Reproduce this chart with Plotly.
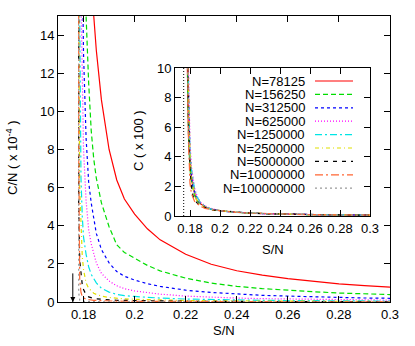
import plotly.graph_objects as go

# ---------------- data ----------------
s_over_n = [0.1777, 0.1779, 0.1781, 0.1785, 0.179, 0.1795, 0.180, 0.181, 0.182, 0.183,
            0.184, 0.185, 0.187, 0.190, 0.193, 0.196, 0.200, 0.205, 0.210, 0.220,
            0.230, 0.240, 0.250, 0.260, 0.270, 0.280, 0.290, 0.300]

sizes = [78125, 156250, 312500, 625000, 1250000, 2500000, 5000000, 10000000, 100000000]
labels = ["N=78125", "N=156250", "N=312500", "N=625000", "N=1250000",
          "N=2500000", "N=5000000", "N=10000000", "N=100000000"]

# C/N in units of 1e-4, one list per N
cn_78125 = [170, 150, 130, 95, 70, 55, 45, 33, 25, 19.5, 15.0, 13.2, 10.6, 8.0, 6.4, 5.4,
            4.61, 3.84, 3.26, 2.50, 1.98, 1.64, 1.41, 1.23, 1.08, 0.95, 0.86, 0.78]
cn_156250 = [200, 150, 100, 55, 35, 26, 20, 15, 11.5, 9.0, 7.5, 6.5, 5.2, 3.95, 3.0, 2.6,
             2.30, 1.92, 1.63, 1.25, 0.99, 0.82, 0.70, 0.61, 0.54, 0.47, 0.43, 0.39]
cn_312500 = [300, 200, 120, 50, 28, 18, 13, 8.6, 6.3, 5.2, 4.3, 3.6, 2.75, 2.05, 1.6, 1.35,
             1.15, 0.96, 0.82, 0.62, 0.50, 0.41, 0.35, 0.31, 0.27, 0.24, 0.21, 0.195]
cn_625000 = [400, 200, 80, 30, 16, 11, 8.0, 5.3, 3.8, 3.05, 2.5, 2.05, 1.5, 1.1, 0.85, 0.70,
             0.58, 0.48, 0.41, 0.31, 0.25, 0.205, 0.176, 0.154, 0.134, 0.118, 0.107, 0.098]
cn_1250000 = [600, 200, 60, 15, 6.5, 4.5, 3.4, 2.5, 1.85, 1.45, 1.2, 1.0, 0.72, 0.52, 0.40, 0.33,
              0.29, 0.24, 0.204, 0.156, 0.124, 0.102, 0.088, 0.077, 0.067, 0.059, 0.054, 0.049]
cn_2500000 = [800, 60, 15, 6, 3.5, 2.4, 1.7, 1.0, 0.72, 0.56, 0.46, 0.40, 0.31, 0.24, 0.19, 0.16,
              0.144, 0.12, 0.102, 0.078, 0.062, 0.051, 0.044, 0.038, 0.034, 0.030, 0.027, 0.024]
cn_5000000 = [1000, 20, 5, 2.2, 1.3, 0.9, 0.65, 0.38, 0.27, 0.22, 0.19, 0.17, 0.14, 0.11, 0.09, 0.08,
              0.072, 0.06, 0.051, 0.039, 0.031, 0.026, 0.022, 0.019, 0.017, 0.015, 0.013, 0.012]
cn_10000000 = [2000, 30, 8, 1.2, 0.5, 0.3, 0.22, 0.15, 0.12, 0.10, 0.09, 0.08, 0.065, 0.052, 0.045, 0.040,
               0.036, 0.030, 0.026, 0.020, 0.016, 0.013, 0.011, 0.0096, 0.0084, 0.0074, 0.0067, 0.0061]
cn_100000000 = [200, 2, 0.5, 0.1, 0.06, 0.05, 0.04, 0.03, 0.023, 0.018, 0.013, 0.011, 0.009, 0.0064, 0.005, 0.0043,
                0.0036, 0.003, 0.0026, 0.002, 0.0016, 0.0013, 0.0011, 0.001, 0.0008, 0.0007, 0.0007, 0.0006]

series = [cn_78125, cn_156250, cn_312500, cn_625000, cn_1250000,
          cn_2500000, cn_5000000, cn_10000000, cn_100000000]

main_xticks = [0.18, 0.20, 0.22, 0.24, 0.26, 0.28, 0.30]
main_xticktext = ["0.18", "0.2", "0.22", "0.24", "0.26", "0.28", "0.3"]
main_yticks = [0, 2, 4, 6, 8, 10, 12, 14]
inset_yticks = [0, 2, 4, 6, 8, 10]
critical_sn = 0.1758      # marked by the arrow / dotted line
arrow_top = 1.5

# ---------------- styles ----------------
colors = ["#ff0000", "#00dd00", "#0000ff", "#ff00ff", "#00e5e5",
          "#e0e000", "#000000", "#ff6633", "#999999"]
dashes = ["solid", "5px,3px", "3px,3px", "1px,2px", "7px,3px,2px,3px",
          "4px,3px,1px,3px", "4px,5px", "8px,3px,2px,3px", "2px,3px"]

W, H = 415, 346
L, R, T, B = 58, 25, 16, 44
pw, ph = W - L - R, H - T - B


def px(x):
    return (x - L) / pw


def py(y):
    return (H - B - y) / ph


FONT = dict(family="Liberation Sans, Arial, sans-serif", size=13, color="black")

fig = go.Figure()

for vals, n, col, d, lab in zip(series, sizes, colors, dashes, labels):
    fig.add_trace(go.Scatter(x=s_over_n, y=vals, mode="lines", name=lab,
                             line=dict(color=col, dash=d, width=1.2),
                             xaxis="x", yaxis="y", showlegend=False))
for vals, n, col, d, lab in zip(series, sizes, colors, dashes, labels):
    c100 = [v * n * 1e-6 for v in vals]   # C/100 = (C/N * 1e-4) * N / 100
    fig.add_trace(go.Scatter(x=s_over_n, y=c100, mode="lines", name=lab,
                             line=dict(color=col, dash=d, width=1.2),
                             xaxis="x2", yaxis="y2", showlegend=False))

axis_common = dict(showline=True, linecolor="black", linewidth=1, mirror="ticks",
                   ticks="inside", ticklen=6, tickcolor="black", tickwidth=1,
                   showgrid=False, zeroline=False, tickfont=FONT)

inset_x0, inset_x1 = 175, 370
inset_y0, inset_y1 = 68, 216

fig.update_layout(
    width=W, height=H, margin=dict(l=L, r=R, t=T, b=B, autoexpand=False),
    paper_bgcolor="white", plot_bgcolor="white", font=FONT,
    xaxis=dict(range=[0.17, 0.30], tickvals=main_xticks, ticktext=main_xticktext,
               domain=[0, 1], anchor="y", **axis_common),
    yaxis=dict(range=[0, 15], tickvals=main_yticks, domain=[0, 1], anchor="x", **axis_common),
    xaxis2=dict(range=[0.17, 0.30], tickvals=main_xticks, ticktext=main_xticktext,
                domain=[px(inset_x0), px(inset_x1)], anchor="y2", **axis_common),
    yaxis2=dict(range=[0, 10], tickvals=inset_yticks,
                domain=[py(inset_y1), py(inset_y0)], anchor="x2", **axis_common),
)

ann = []
ann.append(dict(text="S/N", x=0.5, y=py(330), xref="paper", yref="paper",
                showarrow=False, xanchor="center", yanchor="middle", font=FONT))
ann.append(dict(text="C/N ( x 10<sup>-4</sup> )", x=px(12), y=py(158), xref="paper", yref="paper",
                showarrow=False, textangle=-90, xanchor="center", yanchor="middle", font=FONT))
ann.append(dict(text="S/N", x=px(273), y=py(250), xref="paper", yref="paper",
                showarrow=False, xanchor="center", yanchor="middle", font=FONT))
ann.append(dict(text="C ( x 100 )", x=px(138), y=py(141), xref="paper", yref="paper",
                showarrow=False, textangle=-90, xanchor="center", yanchor="middle", font=FONT))

shapes = []
# arrow at the critical point: shaft plus an open head
shapes.append(dict(type="line", xref="x", yref="y", x0=critical_sn, x1=critical_sn,
                   y0=0, y1=arrow_top, line=dict(color="black", width=1)))
ann.append(dict(x=critical_sn, y=0, ax=0, ay=-12, xref="x", yref="y",
                showarrow=True, arrowhead=2, arrowsize=1,
                arrowwidth=1, arrowcolor="black", text=" "))

shapes.append(dict(type="line", xref="x2", yref="y2 domain", x0=critical_sn, x1=critical_sn,
                   y0=0, y1=1, line=dict(color="black", width=1, dash="1px,2px")))

# legend drawn gnuplot-style: right aligned text then sample
for i, (lab, col, d) in enumerate(zip(labels, colors, dashes)):
    yy = 81 + i * 13.4
    ann.append(dict(text=lab, x=px(307), y=py(yy), xref="paper", yref="paper",
                    showarrow=False, xanchor="right", yanchor="middle", font=FONT))
    shapes.append(dict(type="line", xref="paper", yref="paper", x0=px(315), x1=px(353),
                       y0=py(yy), y1=py(yy), line=dict(color=col, width=1.2, dash=d)))

fig.update_layout(annotations=ann, shapes=shapes)
fig.write_html("out.html", config={"displayModeBar": False},
               post_script="document.body.style.margin='0';")
